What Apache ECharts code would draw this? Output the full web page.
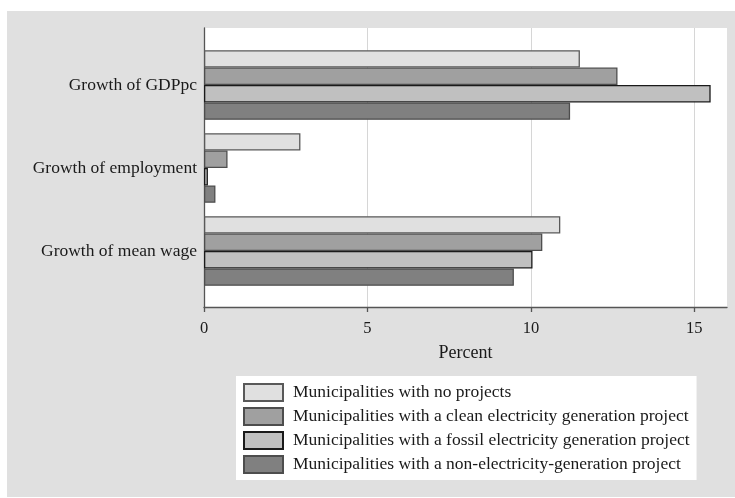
<!DOCTYPE html>
<html>
<head>
<meta charset="utf-8">
<script src="https://cdn.jsdelivr.net/npm/echarts@6/dist/echarts.min.js"></script>
<style>
  html, body { margin: 0; padding: 0; background: #fff; }
  #chart { width: 735px; height: 498px; }
</style>
</head>
<body>
<div id="chart"></div>
<script>
// categories, top to bottom
var categories = ['Growth of GDPpc', 'Growth of employment', 'Growth of mean wage']
var seriesNames = [
  'Municipalities with no projects',
  'Municipalities with a clean electricity generation project',
  'Municipalities with a fossil electricity generation project',
  'Municipalities with a non-electricity-generation project'
]
var noProjects = [11.5, 2.95, 10.9]
var cleanProject = [12.65, 0.72, 10.35]
var fossilProject = [15.5, 0.12, 10.05]
var nonElecProject = [11.2, 0.35, 9.48]
var tickValues = [0, 5, 10, 15]

var fills = ['#e0e0e0', '#a0a0a0', '#c0c0c0', '#808080']
var borders = ['#595959', '#4d4d4d', '#1a1a1a', '#4d4d4d']
var values = [noProjects, cleanProject, fossilProject, nonElecProject]
var serif = '"Liberation Serif", "DejaVu Serif", serif'

var chart = echarts.init(document.getElementById('chart'))

var series = values.map(function (v, i) {
  return {
    name: seriesNames[i],
    type: 'bar',
    xAxisIndex: 1,
    yAxisIndex: 1,
    data: v,
    barGap: '0%',
    barCategoryGap: '16%',
    itemStyle: {
      color: fills[i],
      borderColor: borders[i],
      borderWidth: 1.3
    },
    emphasis: { disabled: true }
  }
})

chart.setOption({
  animation: false,
  backgroundColor: 'transparent',
  graphic: [{
    type: 'rect',
    z: -10,
    silent: true,
    shape: { x: 7, y: 11, width: 728, height: 486 },
    style: { fill: '#e0e0e0' }
  }],
  grid: [
    { left: 204, top: 28, width: 523, height: 279, show: true, backgroundColor: '#fff', borderWidth: 0 },
    { left: 204, top: 43.5, width: 523, height: 249 }
  ],
  xAxis: [
    {
      gridIndex: 0,
      type: 'value',
      min: 0,
      max: 16,
      interval: 5,
      name: 'Percent',
      nameLocation: 'middle',
      nameGap: 37,
      nameTextStyle: { fontFamily: serif, fontSize: 18, color: '#1a1a1a' },
      axisLine: { show: true, onZero: false, lineStyle: { color: '#555', width: 1.3 } },
      axisTick: { show: true, length: 5, customValues: tickValues, lineStyle: { color: '#555', width: 1.3 } },
      axisLabel: { customValues: tickValues, fontFamily: serif, fontSize: 16.5, color: '#1a1a1a', margin: 13 },
      splitLine: { show: true, lineStyle: { color: '#d6d6d6', width: 1 } }
    },
    {
      gridIndex: 1,
      type: 'value',
      min: 0,
      max: 16,
      show: false
    }
  ],
  yAxis: [
    {
      gridIndex: 0,
      type: 'value',
      min: 0,
      max: 1,
      axisLine: { show: true, lineStyle: { color: '#555', width: 1.3 } },
      axisTick: { show: false },
      axisLabel: { show: false },
      splitLine: { show: false }
    },
    {
      gridIndex: 1,
      type: 'category',
      inverse: true,
      data: categories,
      axisLine: { show: false },
      axisTick: { show: false },
      axisLabel: { fontFamily: serif, fontSize: 17.5, color: '#1a1a1a', margin: 7 }
    }
  ],
  legend: {
    orient: 'vertical',
    left: 236,
    top: 376,
    padding: [7, 7, 6, 7],
    backgroundColor: '#fff',
    itemWidth: 39,
    itemHeight: 17,
    itemGap: 5,
    icon: 'rect',
    selectedMode: false,
    textStyle: { fontFamily: serif, fontSize: 17.5, color: '#1a1a1a', padding: [0, 0, 0, 5] },
    data: seriesNames
  },
  series: series
})
</script>
</body>
</html>
